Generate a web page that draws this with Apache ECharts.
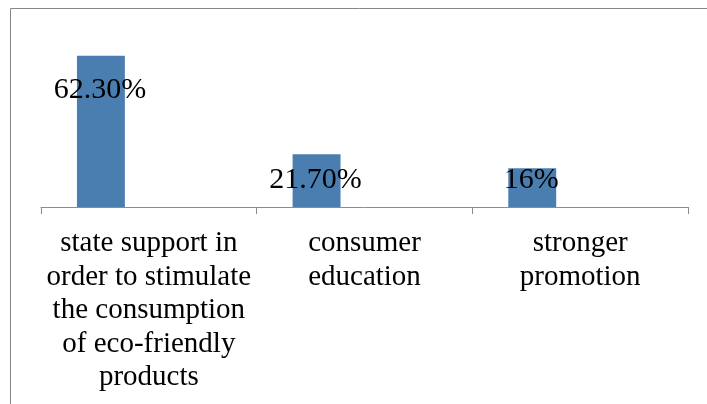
<!DOCTYPE html>
<html>
<head>
<meta charset="utf-8">
<script src="https://cdn.jsdelivr.net/npm/echarts@6/dist/echarts.min.js"></script>
<style>
  html, body { margin: 0; padding: 0; background: #fff; }
  #chart { width: 707px; height: 404px; }
</style>
</head>
<body>
<div id="chart"></div>
<script>
// Survey answers: measures that would raise eco-friendly consumption
const categories = [
  'state support in order to stimulate the consumption of eco-friendly products',
  'consumer education',
  'stronger promotion'
];
const shares = [62.3, 21.7, 16];
const shareLabels = ['62.30%', '21.70%', '16%'];

// vertical nudge of each value label inside its bar
const labelNudge = [19, 11, -3];

const FONT = '"Liberation Serif", "Times New Roman", serif';
const AXIS_FONT_SIZE = 29;
const WRAP_WIDTH = 210;

// word-wrap a category name into lines no wider than WRAP_WIDTH
const measureCtx = document.createElement('canvas').getContext('2d');
measureCtx.font = AXIS_FONT_SIZE + 'px ' + FONT;
function wrapWords(text) {
  const words = text.split(' ');
  const lines = [];
  let line = '';
  words.forEach(w => {
    const trial = line ? line + ' ' + w : w;
    if (line && measureCtx.measureText(trial).width > WRAP_WIDTH) {
      lines.push(line);
      line = w;
    } else {
      line = trial;
    }
  });
  if (line) lines.push(line);
  return lines.join('\n');
}

const chart = echarts.init(document.getElementById('chart'), null, { renderer: 'canvas' });

const mainData = shares.map((v, i) => ({
  value: v,
  label: { offset: [-1, labelNudge[i]] }
}));

// two empty companion series keep the bar in the left third of each slot
const emptyData = categories.map(() => '-');

chart.setOption({
  animation: false,
  backgroundColor: '#ffffff',
  graphic: [{
    type: 'rect',
    shape: { x: 10.5, y: 8.5, width: 800, height: 500 },
    style: { fill: 'none', stroke: '#878787', lineWidth: 1 },
    silent: true
  }],
  grid: { left: 41, right: 19, top: 37, bottom: 197, containLabel: false },
  xAxis: {
    type: 'category',
    data: categories,
    axisLine: { lineStyle: { color: '#8c8c8c', width: 1 } },
    axisTick: { show: true, length: 7, lineStyle: { color: '#8c8c8c' } },
    axisLabel: {
      interval: 0,
      margin: 20,
      color: '#000',
      fontFamily: FONT,
      fontSize: AXIS_FONT_SIZE,
      lineHeight: 33.5,
      align: 'center',
      formatter: v => wrapWords(v)
    }
  },
  yAxis: {
    type: 'value',
    min: 0,
    max: 70,
    show: false,
    splitLine: { show: false }
  },
  series: [
    {
      type: 'bar',
      data: mainData,
      barGap: '0%',
      barCategoryGap: '33.333%',
      itemStyle: { color: '#4a7eb1' },
      label: {
        show: true,
        position: 'insideTop',
        distance: 0,
        color: '#000',
        fontFamily: FONT,
        fontSize: 30,
        formatter: p => shareLabels[p.dataIndex]
      }
    },
    { type: 'bar', data: emptyData, barGap: '0%', barCategoryGap: '33.333%' },
    { type: 'bar', data: emptyData, barGap: '0%', barCategoryGap: '33.333%' }
  ]
});
</script>
</body>
</html>
